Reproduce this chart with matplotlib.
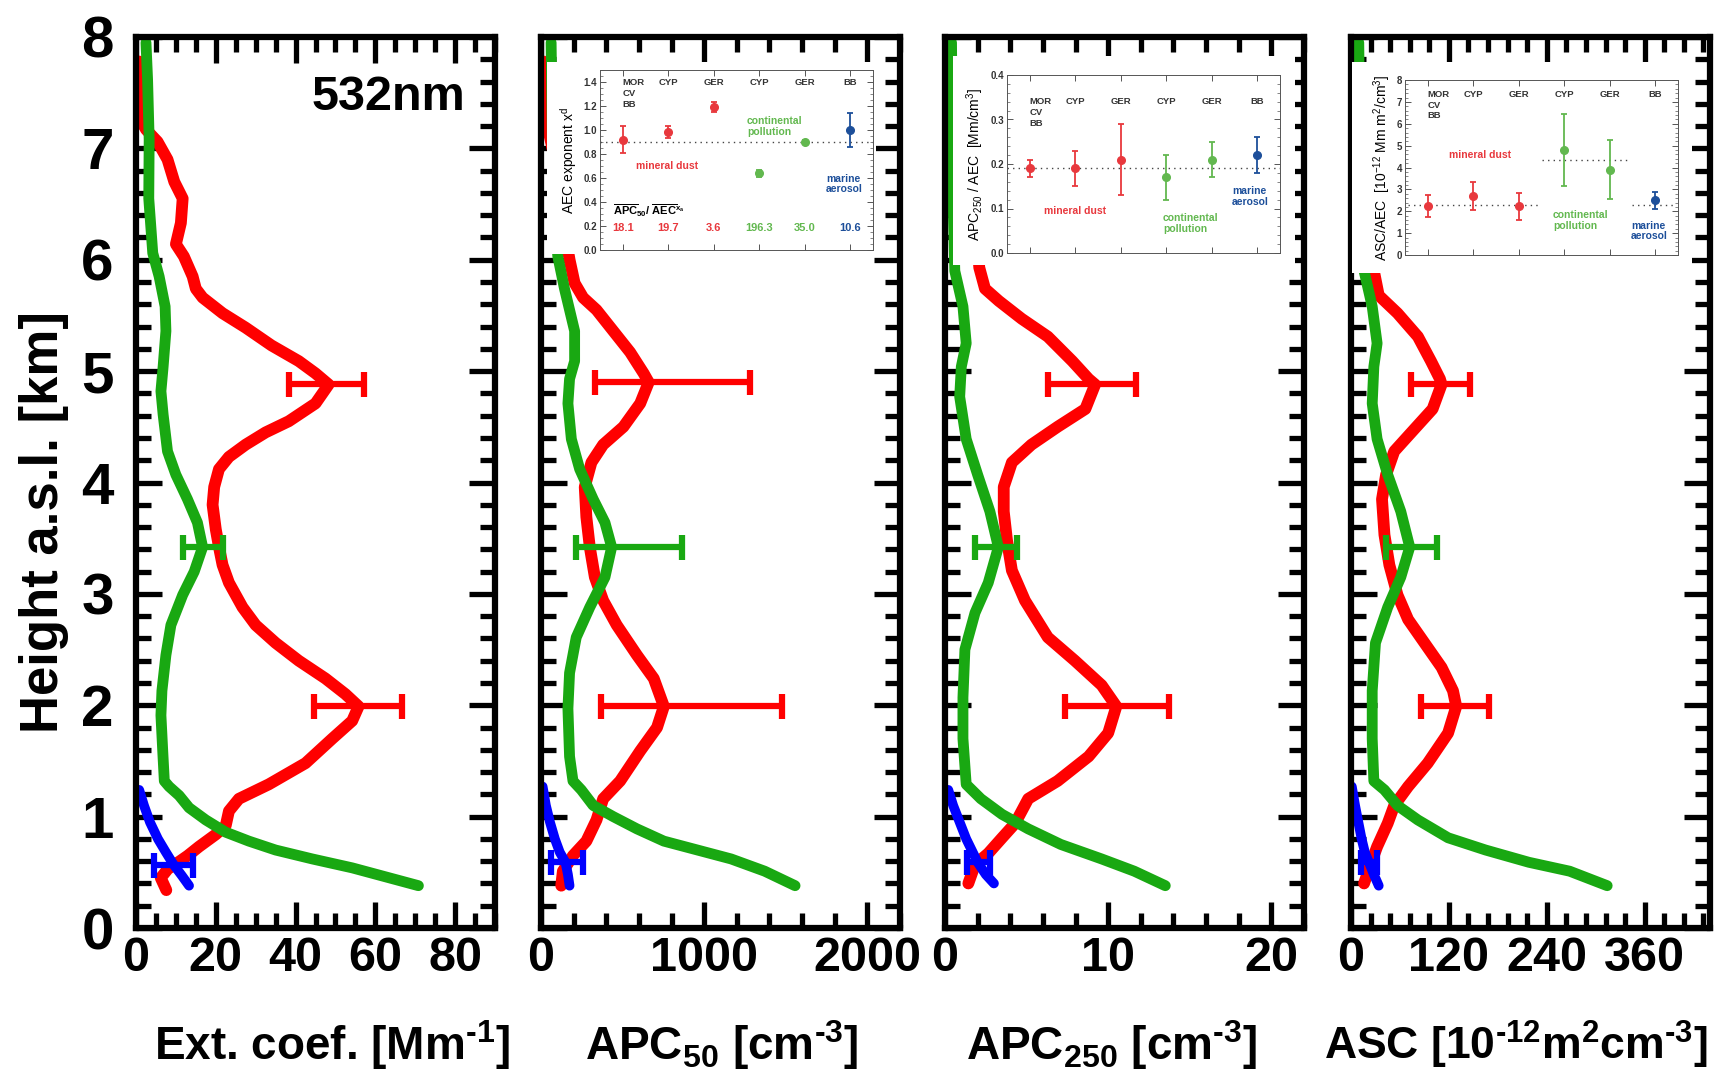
import matplotlib
matplotlib.use('Agg')
import matplotlib.pyplot as plt
from matplotlib.ticker import MultipleLocator

plt.rcParams['font.family'] = ['Liberation Sans', 'DejaVu Sans']
plt.rcParams['font.weight'] = 'bold'
plt.rcParams['mathtext.default'] = 'regular'

# ---------------- profile data (height a.s.l. in km, value) ----------------
# panel 1: extinction coefficient [Mm-1]
ext_red_h = [7.78, 7.25, 7.17, 7.06, 6.9, 6.7, 6.55, 6.33, 6.14, 6.03, 5.85, 5.74, 5.66, 5.52, 5.39,
             5.23, 5.09, 4.98, 4.88, 4.71, 4.55, 4.45, 4.34, 4.23, 4.12, 3.96, 3.8, 3.58, 3.42, 3.26,
             3.1, 2.88, 2.72, 2.56, 2.4, 2.24, 2.1, 1.99, 1.86, 1.7, 1.48, 1.29, 1.16, 1.05, 0.92,
             0.84, 0.73, 0.65, 0.6, 0.53, 0.45, 0.34]
ext_red = [0.8, 1.25, 2.5, 5.4, 7.9, 9.6, 11.7, 11.25, 10, 12, 14.2, 15, 16.7, 21.7, 27.5,
           34, 40.8, 45, 48.3, 45, 38.3, 32.5, 27.5, 23.3, 20.8, 19.6, 19.2, 20, 20.8, 21.7,
           23.3, 26.7, 30, 35, 40.8, 47.5, 52.5, 55.8, 54.2, 49.2, 42.5, 33.3, 25.8, 23.3, 22.5,
           20, 15.8, 13, 11, 8, 6.2, 7.6]
ext_green_h = [7.95, 7.62, 7.08, 6.55, 6.06, 5.85, 5.58, 5.36, 5.04, 4.82, 4.61, 4.28, 4.07, 3.85,
               3.64, 3.42, 3.2, 2.99, 2.72, 2.45, 2.13, 1.91, 1.59, 1.32, 1.27, 1.19, 1.08, 0.97,
               0.86, 0.78, 0.7, 0.62, 0.54, 0.46, 0.38]
ext_green = [2.5, 2.9, 3.3, 3.2, 4.2, 5.8, 7.3, 7.5, 6.8, 6.25, 6.8, 7.9, 10, 12.9,
             15.4, 16.7, 14.6, 11.7, 8.75, 7.5, 6.5, 6.25, 6.7, 7.1, 8.3, 10.8, 13.3, 17.5,
             22.5, 28.3, 35, 44.2, 54.2, 62.5, 70.8]
ext_blue_h = [1.24, 1.1, 0.95, 0.8, 0.68, 0.57, 0.47, 0.38]
ext_blue = [0.8, 2.0, 3.5, 5.5, 7.5, 9.4, 11.5, 13.3]

# panel 2: APC50 [cm-3]
apc50_red_h = [7.78, 7.2, 7.0, 6.55, 6.3, 6.0, 5.79, 5.66, 5.55, 5.36, 5.17, 4.98, 4.9, 4.71, 4.5,
               4.34, 4.18, 3.96, 3.69, 3.42, 3.15, 2.94, 2.72, 2.45, 2.24, 1.99, 1.8, 1.59, 1.32,
               1.16, 0.97, 0.78, 0.65, 0.51, 0.38]
apc50_red = [15, 40, 70, 150, 140, 175, 206, 258, 340, 443, 546, 629, 660, 608, 505,
             381, 309, 268, 278, 299, 330, 381, 464, 588, 691, 753, 711, 608, 485,
             381, 340, 278, 196, 134, 124]
apc50_green_h = [7.95, 7.0, 6.5, 6.03, 5.74, 5.36, 5.09, 4.93, 4.71, 4.39, 4.12, 3.85, 3.64, 3.42,
                 3.15, 2.88, 2.61, 2.29, 1.97, 1.54, 1.32, 1.24, 1.1, 1.0, 0.89, 0.78, 0.7, 0.62,
                 0.51, 0.38]
apc50_green = [62, 70, 80, 103, 144, 206, 206, 175, 165, 186, 237, 320, 392, 433,
               392, 299, 216, 175, 165, 175, 196, 247, 320, 443, 588, 753, 959, 1165,
               1371, 1557]
apc50_blue_h = [1.27, 1.1, 0.95, 0.8, 0.68, 0.59, 0.48, 0.38]
apc50_blue = [10, 30, 55, 85, 115, 150, 165, 175]

# panel 3: APC250 [cm-3]
apc250_red_h = [7.78, 7.0, 6.5, 5.93, 5.74, 5.63, 5.47, 5.31, 5.09, 4.93, 4.88, 4.66, 4.5, 4.34,
                4.18, 3.96, 3.74, 3.48, 3.21, 2.94, 2.61, 2.4, 2.18, 1.99, 1.75, 1.54, 1.32, 1.16,
                0.94, 0.81, 0.67, 0.57, 0.4]
apc250_red = [0.2, 1.0, 1.8, 2.1, 2.45, 3.3, 4.7, 6.3, 7.8, 8.8, 9.2, 8.6, 6.9, 5.3,
              4.1, 3.6, 3.6, 3.8, 4.1, 4.9, 6.3, 7.96, 9.6, 10.5, 10, 8.8, 6.9, 5.1,
              4.3, 3.5, 2.65, 1.84, 1.43]
apc250_green_h = [7.95, 7.0, 6.5, 5.9, 5.58, 5.25, 5.04, 4.77, 4.39, 4.07, 3.74, 3.42, 3.1, 2.83,
                  2.5, 2.07, 1.7, 1.29, 1.16, 1.02, 0.89, 0.75, 0.62, 0.51, 0.38]
apc250_green = [0.4, 0.45, 0.5, 0.6, 1.1, 1.3, 1.0, 0.9, 1.3, 2.0, 2.75, 3.27, 2.65, 1.84,
                1.22, 1.1, 1.1, 1.3, 2.2, 3.5, 5.1, 7.1, 9.6, 11.6, 13.5]
apc250_blue_h = [1.24, 1.1, 0.95, 0.8, 0.68, 0.59, 0.48, 0.4]
apc250_blue = [0.2, 0.5, 0.9, 1.3, 1.7, 2.0, 2.5, 3.0]

# panel 4: ASC [1e-12 m2 cm-3]
asc_red_h = [7.78, 7.0, 6.5, 5.9, 5.68, 5.52, 5.31, 5.09, 4.93, 4.88, 4.66, 4.45, 4.28, 4.07,
             3.85, 3.53, 3.26, 2.99, 2.77, 2.56, 2.34, 2.13, 1.99, 1.75, 1.48, 1.27, 1.1, 0.94,
             0.73, 0.57, 0.4]
asc_red = [3, 10, 22, 28, 34, 57, 82, 98, 109, 111, 100, 74, 53, 43,
           38, 41, 47, 57, 70, 90, 111, 125, 129, 119, 94, 70, 53, 45,
           32, 24, 16]
asc_green_h = [7.95, 7.0, 5.9, 5.58, 5.25, 5.04, 4.71, 4.39, 4.07, 3.74, 3.42, 3.15, 2.88, 2.56,
               2.13, 1.7, 1.32, 1.24, 1.1, 0.97, 0.81, 0.7, 0.59, 0.51, 0.38]
asc_green = [9.5, 11, 16, 26, 32, 28, 26, 32, 45, 61, 72, 61, 45, 30,
             26, 26, 28, 41, 57, 82, 119, 165, 218, 268, 314]
asc_blue_h = [1.27, 1.1, 0.95, 0.8, 0.68, 0.59, 0.48, 0.38]
asc_blue = [1, 5, 9, 13, 17, 22, 28, 34]

# error bars: (height, centre, lower end, upper end)
ext_err_red = [(4.88, 48.3, 38.3, 57.1), (1.99, 55.8, 44.6, 66.7)]
ext_err_green = [(3.42, 16.7, 11.7, 21.7)]
ext_err_blue = [(0.57, 9.4, 4.6, 14.2)]
apc50_err_red = [(4.9, 660, 330, 1278), (1.99, 753, 365, 1474)]
apc50_err_green = [(3.42, 433, 216, 866)]
apc50_err_blue = [(0.59, 150, 62, 258)]
apc250_err_red = [(4.88, 9.2, 6.3, 11.7), (1.99, 10.5, 7.35, 13.7)]
apc250_err_green = [(3.42, 3.27, 1.84, 4.4)]
apc250_err_blue = [(0.59, 2.0, 1.33, 2.75)]
asc_err_red = [(4.88, 111, 74, 146), (1.99, 129, 86, 169)]
asc_err_green = [(3.42, 72, 43, 105)]
asc_err_blue = [(0.59, 22, 12, 32)]

# ---------------- inset data ----------------
ins_cats = ['MOR\nCV\nBB', 'CYP', 'GER', 'CYP', 'GER', 'BB']
ins_group = ['dust', 'dust', 'dust', 'poll', 'poll', 'marine']
aec_exp = [0.92, 0.98, 1.19, 0.64, 0.90, 1.00]
aec_exp_err = [0.11, 0.05, 0.04, 0.03, 0.015, 0.14]
apc_aec_ratio = ['18.1', '19.7', '3.6', '196.3', '35.0', '10.6']
apc250_aec = [0.19, 0.19, 0.21, 0.17, 0.21, 0.22]
apc250_aec_err = [0.02, 0.04, 0.08, 0.05, 0.04, 0.04]
asc_aec = [2.25, 2.7, 2.22, 4.8, 3.9, 2.5]
asc_aec_err = [0.5, 0.65, 0.6, 1.65, 1.35, 0.4]

RED, GREEN, BLUE = '#ff0000', '#19a812', '#0000ff'
ICOL = {'dust': '#e8383d', 'poll': '#62b84f', 'marine': '#1d4f9a'}
GREY = '#333333'

W, H = 1719, 1088


def rect(x0, y0, x1, y1):
    return [x0 / W, 1 - y1 / H, (x1 - x0) / W, (y1 - y0) / H]


fig = plt.figure(figsize=(W / 100, H / 100), dpi=100)

panels = [
    (136, 90, 20, 5, [0, 20, 40, 60, 80],
     (ext_red_h, ext_red), (ext_green_h, ext_green), (ext_blue_h, ext_blue),
     ext_err_red, ext_err_green, ext_err_blue),
    (541, 2200, 1000, 200, [0, 1000, 2000],
     (apc50_red_h, apc50_red), (apc50_green_h, apc50_green), (apc50_blue_h, apc50_blue),
     apc50_err_red, apc50_err_green, apc50_err_blue),
    (945, 22, 10, 2, [0, 10, 20],
     (apc250_red_h, apc250_red), (apc250_green_h, apc250_green), (apc250_blue_h, apc250_blue),
     apc250_err_red, apc250_err_green, apc250_err_blue),
    (1351, 440, 120, 24, [0, 120, 240, 360],
     (asc_red_h, asc_red), (asc_green_h, asc_green), (asc_blue_h, asc_blue),
     asc_err_red, asc_err_green, asc_err_blue),
]

HY = '\u2010'  # short hyphen used in the superscripts
xlabels = [(332, 'Ext. coef. [Mm$^{' + HY + '1}$]', 33),
           (722, 'APC$_{50}$ [cm$^{' + HY + '3}$]', 33),
           (1112, 'APC$_{250}$ [cm$^{' + HY + '3}$]', 33),
           (1516, 'ASC [10$^{' + HY + '12}$m$^{2}$cm$^{' + HY + '3}$]', 32)]

for i, (left, xmax, major, minor, ticks, red, green, blue, er, eg, eb) in enumerate(panels):
    ax = fig.add_axes(rect(left, 37, left + 359, 928))
    ax.plot(red[1], red[0], color=RED, lw=8.5, solid_capstyle='round', solid_joinstyle='round')
    ax.plot(green[1], green[0], color=GREEN, lw=7.8, solid_capstyle='round', solid_joinstyle='round')
    for errs, col in [(er, RED), (eg, GREEN)]:
        for h, c, lo, hi in errs:
            ax.errorbar(c, h, xerr=[[c - lo], [hi - c]], fmt='none', ecolor=col,
                        elinewidth=4.5, capsize=9, capthick=4.5)
    ax.plot(blue[1], blue[0], color=BLUE, lw=7, solid_capstyle='round', solid_joinstyle='round')
    for h, c, lo, hi in eb:
        ax.errorbar(c, h, xerr=[[c - lo], [hi - c]], fmt='none', ecolor=BLUE,
                    elinewidth=4.5, capsize=9, capthick=4.5)
    ax.set_xlim(0, xmax)
    ax.set_ylim(0, 8)
    ax.set_xticks(ticks)
    ax.xaxis.set_minor_locator(MultipleLocator(minor))
    ax.yaxis.set_major_locator(MultipleLocator(1))
    ax.yaxis.set_minor_locator(MultipleLocator(0.2))
    ax.tick_params(which='both', direction='in', top=True, right=True, width=3.8, color='black')
    ax.tick_params(which='major', length=19)
    ax.tick_params(which='minor', length=11)
    ax.tick_params(axis='x', labelsize=35, pad=6)
    ax.tick_params(axis='y', labelsize=42, pad=16)
    for sp in ax.spines.values():
        sp.set_linewidth(4.5)
    if i > 0:
        ax.set_yticklabels([])
    fig.text(xlabels[i][0] / W, 1 - 1060 / H, xlabels[i][1], fontsize=xlabels[i][2],
             ha='center', va='baseline', fontweight='bold')

fig.text(44 / W, 1 - 522 / H, 'Height a.s.l. [km]', rotation=90, fontsize=38,
         ha='center', va='center', fontweight='bold')
fig.text(465 / W, 1 - 75 / H, '532nm', fontsize=35, ha='right', va='top', fontweight='bold')


def make_inset(patch_px, axes_px, vals, errs, ylim, major, minor, fmt, ylabel, cat_top):
    bg = fig.add_axes(rect(*patch_px))
    bg.set_facecolor('white')
    bg.set_xticks([])
    bg.set_yticks([])
    for sp in bg.spines.values():
        sp.set_visible(False)
    ia = fig.add_axes(rect(*axes_px))
    xs = list(range(1, 7))
    for x, v, e, g in zip(xs, vals, errs, ins_group):
        ia.errorbar(x, v, yerr=e, fmt='o', color=ICOL[g], ms=5.5, elinewidth=1.3,
                    capsize=2.5, capthick=1.3)
    for x, c in zip(xs, ins_cats):
        ia.text(x, cat_top, c, ha='center' if x > 1 else 'left', va='top', fontsize=6.8,
                color=GREY, linespacing=1.25)
    ia.set_xlim(0.5, 6.5)
    ia.set_ylim(*ylim)
    ia.set_xticks(xs)
    ia.set_xticklabels([])
    ia.yaxis.set_major_locator(MultipleLocator(major))
    ia.yaxis.set_minor_locator(MultipleLocator(minor))
    ia.yaxis.set_major_formatter(fmt)
    ia.tick_params(which='both', direction='in', top=True, right=True, color='#555555',
                   labelsize=7, labelcolor=GREY, pad=2)
    ia.tick_params(which='major', length=4, width=0.7)
    ia.tick_params(which='minor', length=2, width=0.5)
    for sp in ia.spines.values():
        sp.set_linewidth(0.7)
        sp.set_color('#555555')
    ia.set_ylabel(ylabel, fontsize=10, labelpad=3)
    return ia


# inset of panel 2: AEC exponent
ia2 = make_inset((547, 62, 876, 254), (600, 70, 873, 250), aec_exp, aec_exp_err,
                 (0, 1.5), 0.2, 0.05, '{x:.1f}', r'AEC exponent x$^{d}$', 1.43)
ia2.axhline(0.9, color='#444444', lw=1, ls=(0, (1, 3)), zorder=0)
ia2.text(1.97, 0.70, 'mineral dust', color=ICOL['dust'], fontsize=7.5, ha='center', va='center')
ia2.text(3.73, 1.03, 'continental\npollution', color=ICOL['poll'], fontsize=7.5,
         ha='left', va='center', linespacing=1.1)
ia2.text(5.47, 0.55, 'marine\naerosol', color=ICOL['marine'], fontsize=7.5,
         ha='left', va='center', linespacing=1.1)
ia2.text(0.79, 0.33, r'$\overline{APC}_{50}$/ $\overline{AEC}^{x_a}$', color='black',
         fontsize=8, ha='left', va='center')
for x, s, g in zip(range(1, 7), apc_aec_ratio, ins_group):
    ia2.text(x, 0.18, s, color=ICOL[g], fontsize=8, ha='center', va='center')

# inset of panel 3: APC250 / AEC
ia3 = make_inset((953, 56, 1295, 265), (1007, 75, 1280, 253), apc250_aec, apc250_aec_err,
                 (0, 0.4), 0.1, 0.02, '{x:.1f}', r'APC$_{250}$ / AEC  [Mm/cm$^{3}$]', 0.35)
ia3.axhline(0.19, color='#444444', lw=1, ls=(0, (1, 3)), zorder=0)
ia3.text(1.99, 0.094, 'mineral dust', color=ICOL['dust'], fontsize=7.5, ha='center', va='center')
ia3.text(3.93, 0.066, 'continental\npollution', color=ICOL['poll'], fontsize=7.5,
         ha='left', va='center', linespacing=1.1)
ia3.text(5.45, 0.127, 'marine\naerosol', color=ICOL['marine'], fontsize=7.5,
         ha='left', va='center', linespacing=1.1)

# inset of panel 4: ASC / AEC
ia4 = make_inset((1352, 62, 1692, 273), (1405, 80, 1678, 255), asc_aec, asc_aec_err,
                 (0, 8), 1, 0.2, '{x:.0f}', r'ASC/AEC  [10$^{-12}$ Mm m$^{2}$/cm$^{3}$]', 7.55)
ia4.plot([0.57, 3.42], [2.28, 2.28], color='#444444', lw=1, ls=(0, (1, 3)), zorder=0)
ia4.plot([3.51, 5.45], [4.35, 4.35], color='#444444', lw=1, ls=(0, (1, 3)), zorder=0)
ia4.plot([5.49, 6.39], [2.28, 2.28], color='#444444', lw=1, ls=(0, (1, 3)), zorder=0)
ia4.text(2.15, 4.57, 'mineral dust', color=ICOL['dust'], fontsize=7.5, ha='center', va='center')
ia4.text(3.75, 1.57, 'continental\npollution', color=ICOL['poll'], fontsize=7.5,
         ha='left', va='center', linespacing=1.1)
ia4.text(5.47, 1.1, 'marine\naerosol', color=ICOL['marine'], fontsize=7.5,
         ha='left', va='center', linespacing=1.1)

fig.savefig('out.png', dpi=100)
